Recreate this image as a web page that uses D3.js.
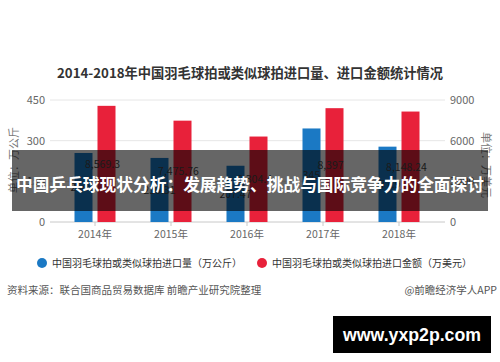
<!DOCTYPE html>
<html><head><meta charset="utf-8">
<script src="https://cdn.jsdelivr.net/npm/d3@7"></script>
<style>
html,body{margin:0;padding:0;background:#fff;}
svg{display:block;font-family:"Noto Sans CJK SC","Noto Sans",sans-serif;}
</style></head>
<body>
<svg id="c" width="500" height="362"></svg>
<script>
const years = ["2014年","2015年","2016年","2017年","2018年"];
const volume = [254.6, 236.31, 207.47, 345.0, 277.9];       // 万公斤
const volumeLabels = ["254.6","236.31","207.47","345","277.9"];
const amount = [8569.3, 7475.76, 6304.4, 8397, 8148.24];     // 万美元
const amountLabels = ["8,569.3","7,475.76","6,304.4","8,397","8,148.24"];
const leftTicks = [0,150,300,450];
const rightTicks = [0,3000,6000,9000];
const title = "2014-2018年中国羽毛球拍或类似球拍进口量、进口金额统计情况";
const legendNames = ["中国羽毛球拍或类似球拍进口量（万公斤）","中国羽毛球拍或类似球拍进口金额（万美元）"];
const colors = ["#1b79c4","#e8213a"];

const svg = d3.select("#c");
const x = d3.scaleBand().domain(years).range([57,437]);
const yL = d3.scaleLinear().domain([0,450]).range([222,100]);
const yR = d3.scaleLinear().domain([0,9000]).range([222,100]);
const bw = 18, gap = 5;

// title
svg.append("text").attr("x",250).attr("y",78).attr("text-anchor","middle")
  .attr("font-size",13.5).attr("font-weight","bold").attr("fill","#333")
  .attr("textLength",386).attr("lengthAdjust","spacingAndGlyphs").text(title);

// gridlines
svg.append("g").selectAll("line").data(leftTicks).join("line")
  .attr("x1",50).attr("x2",445).attr("y1",d=>yL(d)).attr("y2",d=>yL(d))
  .attr("stroke",d=>d===0?"#c8c8c8":"#e6e6e6").attr("stroke-width",1);

// axis labels
svg.append("g").selectAll("text").data(leftTicks).join("text")
  .attr("x",45).attr("y",d=>yL(d)+4).attr("text-anchor","end")
  .attr("font-size",11).attr("fill","#666").text(d=>d);
svg.append("g").selectAll("text").data(rightTicks).join("text")
  .attr("x",450).attr("y",d=>yR(d)+4).attr("text-anchor","start")
  .attr("font-size",11).attr("fill","#666").text(d=>d);

// axis titles
svg.append("text").attr("transform","translate(18,160) rotate(-90)").attr("text-anchor","middle")
  .attr("font-size",11).attr("fill","#777").text("单位：万公斤");
svg.append("text").attr("transform","translate(482,165) rotate(90)").attr("text-anchor","middle")
  .attr("font-size",11).attr("fill","#777").text("单位：万美元");

// x ticks and labels
svg.append("g").selectAll("line").data(years).join("line")
  .attr("x1",d=>x(d)+x.bandwidth()/2).attr("x2",d=>x(d)+x.bandwidth()/2)
  .attr("y1",222).attr("y2",226).attr("stroke","#c8c8c8");
svg.append("g").selectAll("text").data(years).join("text")
  .attr("x",d=>x(d)+x.bandwidth()/2).attr("y",238).attr("text-anchor","middle")
  .attr("font-size",10.5).attr("fill","#666").text(d=>d);

// bars
const cx = d=>x(d)+x.bandwidth()/2;
svg.append("g").selectAll("rect").data(years).join("rect")
  .attr("x",(d)=>cx(d)-gap/2-bw).attr("width",bw)
  .attr("y",(d,i)=>yL(volume[i])).attr("height",(d,i)=>yL(0)-yL(volume[i]))
  .attr("fill",colors[0]);
svg.append("g").selectAll("rect").data(years).join("rect")
  .attr("x",(d)=>cx(d)+gap/2).attr("width",bw)
  .attr("y",(d,i)=>yR(amount[i])).attr("height",(d,i)=>yR(0)-yR(amount[i]))
  .attr("fill",colors[1]);

// value labels
svg.append("g").selectAll("text").data(years).join("text")
  .attr("x",d=>cx(d)-gap/2-bw/2).attr("y",(d,i)=>(yL(volume[i])+yL(0))/2+4)
  .attr("text-anchor","middle").attr("font-size",10.5).attr("fill","#444").text((d,i)=>volumeLabels[i]);
svg.append("g").selectAll("text").data(years).join("text")
  .attr("x",d=>cx(d)+gap/2+bw/2-4).attr("y",(d,i)=>(yR(amount[i])+yR(0))/2+4)
  .attr("text-anchor","middle").attr("font-size",10.5).attr("fill","#444").text((d,i)=>amountLabels[i]);

// legend
const lg = [{x:42,t:legendNames[0],c:colors[0]},{x:262,t:legendNames[1],c:colors[1]}];
const L = svg.append("g").selectAll("g").data(lg).join("g");
L.append("circle").attr("cx",d=>d.x).attr("cy",263).attr("r",5).attr("fill",d=>d.c);
L.append("text").attr("x",d=>d.x+10).attr("y",267).attr("font-size",10).attr("fill","#333").text(d=>d.t);

// source
svg.append("text").attr("x",7).attr("y",294).attr("font-size",10.5).attr("fill","#555")
  .text("资料来源：联合国商品贸易数据库 前瞻产业研究院整理");
svg.append("text").attr("x",497).attr("y",294).attr("text-anchor","end").attr("font-size",10.5).attr("fill","#555")
  .text("@前瞻经济学人APP");

// banner overlay
svg.append("rect").attr("x",12).attr("y",150).attr("width",476).attr("height",61)
  .attr("fill","rgba(0,0,0,0.6)");
svg.append("text").attr("x",250).attr("y",191).attr("text-anchor","middle")
  .attr("font-size",17.5).attr("font-weight","bold").attr("fill","#fff")
  .attr("textLength",468).attr("lengthAdjust","spacingAndGlyphs")
  .text("中国乒乓球现状分析：发展趋势、挑战与国际竞争力的全面探讨");

// black box
svg.append("rect").attr("x",333).attr("y",316).attr("width",158).attr("height",37).attr("fill","#000");
svg.append("text").attr("x",412).attr("y",341).attr("text-anchor","middle")
  .attr("font-family","'Liberation Sans',Arial,sans-serif").attr("font-size",19).attr("font-weight","bold")
  .attr("fill","#fff").attr("textLength",138).attr("lengthAdjust","spacingAndGlyphs").text("www.yxp2p.com");
</script>
</body></html>
